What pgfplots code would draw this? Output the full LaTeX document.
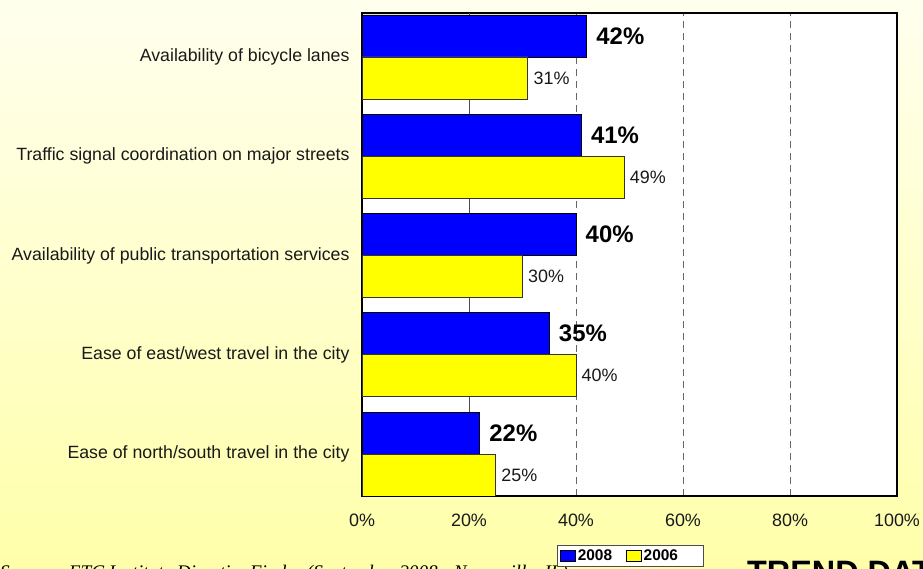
\documentclass[border=0pt]{standalone}
\usepackage{pgfplots}
\pgfplotsset{compat=1.18}
\usepackage{fontspec}
\setmainfont{Liberation Sans}
\newfontfamily\serifit{Liberation Serif}
\definecolor{bgtop}{HTML}{FFFFEE}
\definecolor{bgbot}{HTML}{FFFFAA}
\definecolor{barblue}{HTML}{0000FF}
\definecolor{baryellow}{HTML}{FFFF00}
\begin{document}
\begin{tikzpicture}
\useasboundingbox (0bp,0bp) rectangle (923bp,569bp);
\shade[top color=bgtop, bottom color=bgbot] (0bp,0bp) rectangle (923bp,569bp);
\node[anchor=base west, inner sep=0pt, font=\serifit\itshape\fontsize{19.3}{19.3}\selectfont] at (0bp,-9.5bp) {Source:\ \ ETC Institute DirectionFinder (September 2008 - Naperville, IL)};
\node[anchor=base west, inner sep=0pt, font=\bfseries\fontsize{32.5}{32.5}\selectfont] at (747bp,-14bp) {TREND DATA};
\begin{axis}[
  at={(362bp,73bp)}, anchor=south west,
  scale only axis, width=535bp, height=483bp,
  xbar, bar width=42bp,
  xmin=0, xmax=100, ymin=-0.423, ymax=4.443,
  axis background/.style={fill=white},
  axis line style={black, line width=1.6bp},
  major tick length=0pt,
  /pgf/number format/assume math mode=true,
  ytick={0,1,2,3,4},
  yticklabels={Ease of north/south travel in the city, Ease of east/west travel in the city, Availability of public transportation services, Traffic signal coordination on major streets, Availability of bicycle lanes},
  yticklabel style={font=\fontsize{17.8}{17.8}\selectfont, xshift=-9bp, text=black!90},
  xtick={0,20,40,60,80,100},
  xticklabels={0\%,20\%,40\%,60\%,80\%,100\%},
  xticklabel style={font=\fontsize{18}{18}\selectfont, yshift=-14bp, text=black!90},
  xmajorgrids,
  major grid style={gray!80!black, line width=1bp, dash pattern=on 7bp off 5bp},
  point meta=x,
  legend columns=2,
  legend cell align=left,
  legend style={at={(0.3645,-0.1015)}, anchor=north west, draw=black!70, fill=white,
    font=\bfseries\fontsize{15.5}{15.5}\selectfont, inner xsep=3bp, inner ysep=2.5bp,
    /tikz/every even column/.append style={column sep=12bp}},
]
\draw[gray!60!black, line width=1bp] (axis cs:20,-0.423) -- (axis cs:20,4.443);
\addplot[fill=barblue, draw=black, line width=0.8bp, bar shift=21bp,
  nodes near coords={\pgfmathprintnumber{\pgfplotspointmeta}\%},
  nodes near coords style={font=\bfseries\fontsize{24}{24}\selectfont, anchor=west, xshift=6bp, text=black},
  legend image code/.code={\draw[fill=barblue, draw=black, line width=0.6bp] (0bp,-5.5bp) rectangle (15bp,6bp);}]
  coordinates {(42,4) (41,3) (40,2) (35,1) (22,0)};
\addplot[fill=baryellow, draw=black!80, line width=0.8bp, bar shift=-21bp,
  nodes near coords={\pgfmathprintnumber{\pgfplotspointmeta}\%},
  nodes near coords style={font=\fontsize{18}{18}\selectfont, anchor=west, xshift=2bp, text=black!90},
  legend image code/.code={\draw[fill=baryellow, draw=black, line width=0.6bp] (0bp,-5.5bp) rectangle (15bp,6bp);}]
  coordinates {(31,4) (49,3) (30,2) (40,1) (25,0)};
\legend{2008,\makebox[54bp][l]{2006}}
\end{axis}
\end{tikzpicture}
\end{document}
